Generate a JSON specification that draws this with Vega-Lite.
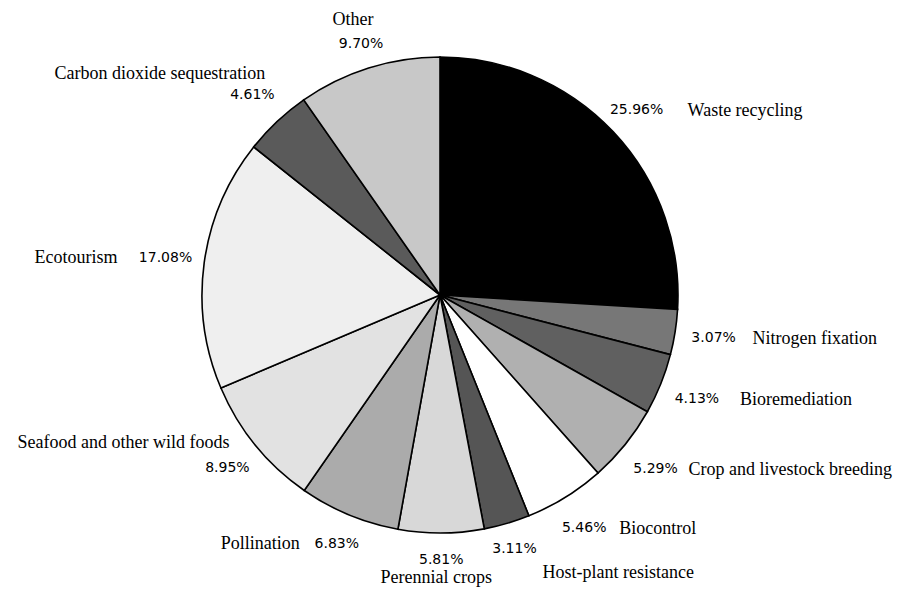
{
  "$schema": "https://vega.github.io/schema/vega-lite/v6.json",
  "width": 880,
  "height": 590,
  "autosize": "none",
  "padding": {"left": 0, "top": 0, "right": 25, "bottom": 1},
  "background": "white",
  "config": {"view": {"stroke": null}},
  "data": {
    "values": [
      {"idx": 1, "service": "Waste recycling", "share": 0.2596},
      {"idx": 2, "service": "Nitrogen fixation", "share": 0.0307},
      {"idx": 3, "service": "Bioremediation", "share": 0.0413},
      {"idx": 4, "service": "Crop and livestock breeding", "share": 0.0529},
      {"idx": 5, "service": "Biocontrol", "share": 0.0546},
      {"idx": 6, "service": "Host-plant resistance", "share": 0.0311},
      {"idx": 7, "service": "Perennial crops", "share": 0.0581},
      {"idx": 8, "service": "Pollination", "share": 0.0683},
      {"idx": 9, "service": "Seafood and other wild foods", "share": 0.0895},
      {"idx": 10, "service": "Ecotourism", "share": 0.1708},
      {"idx": 11, "service": "Carbon dioxide sequestration", "share": 0.0461},
      {"idx": 12, "service": "Other", "share": 0.0970}
    ]
  },
  "encoding": {
    "theta": {"field": "share", "type": "quantitative", "stack": true},
    "order": {"field": "idx", "type": "quantitative"}
  },
  "layer": [
    {
      "mark": {"type": "arc", "radius": 238, "stroke": "black", "strokeWidth": 1.6},
      "encoding": {
        "fill": {
          "field": "service",
          "type": "nominal",
          "legend": null,
          "scale": {
            "domain": ["Waste recycling", "Nitrogen fixation", "Bioremediation", "Crop and livestock breeding", "Biocontrol", "Host-plant resistance", "Perennial crops", "Pollination", "Seafood and other wild foods", "Ecotourism", "Carbon dioxide sequestration", "Other"],
            "range": ["#000000", "#777777", "#606060", "#b0b0b0", "#ffffff", "#555555", "#d8d8d8", "#ababab", "#e2e2e2", "#efefef", "#5a5a5a", "#c8c8c8"]
          }
        }
      }
    },
    {
      "mark": {"type": "text", "radius": 265, "font": "DejaVu Sans", "fontSize": 14, "align": "center", "baseline": "middle", "color": "black"},
      "encoding": {"text": {"condition": {"test": "indexof([6,7], datum.idx) >= 0", "field": "share", "type": "quantitative", "format": ".2%"}, "value": ""}}
    },
    {
      "mark": {"type": "text", "radius": 263, "font": "DejaVu Sans", "fontSize": 14, "align": "center", "baseline": "middle", "color": "black"},
      "encoding": {"text": {"condition": {"test": "datum.idx === 12", "field": "share", "type": "quantitative", "format": ".2%"}, "value": ""}}
    },
    {
      "mark": {"type": "text", "radius": 270, "font": "DejaVu Sans", "fontSize": 14, "align": "center", "baseline": "middle", "color": "black"},
      "encoding": {"text": {"condition": {"test": "indexof([1,8], datum.idx) >= 0", "field": "share", "type": "quantitative", "format": ".2%"}, "value": ""}}
    },
    {
      "mark": {"type": "text", "radius": 274, "font": "DejaVu Sans", "fontSize": 14, "align": "center", "baseline": "middle", "color": "black"},
      "encoding": {"text": {"condition": {"test": "indexof([5,9,11], datum.idx) >= 0", "field": "share", "type": "quantitative", "format": ".2%"}, "value": ""}}
    },
    {
      "mark": {"type": "text", "radius": 277, "font": "DejaVu Sans", "fontSize": 14, "align": "center", "baseline": "middle", "color": "black"},
      "encoding": {"text": {"condition": {"test": "indexof([2,3,4,10], datum.idx) >= 0", "field": "share", "type": "quantitative", "format": ".2%"}, "value": ""}}
    },
    {
      "mark": {"type": "text", "radius": 270, "font": "Liberation Serif", "fontSize": 18, "align": "left", "baseline": "alphabetic", "dx": 51, "dy": 6, "color": "black"},
      "encoding": {"text": {"condition": {"test": "datum.idx === 1", "field": "service", "type": "nominal"}, "value": ""}}
    },
    {
      "mark": {"type": "text", "radius": 277, "font": "Liberation Serif", "fontSize": 18, "align": "left", "baseline": "alphabetic", "dx": 39, "dy": 6, "color": "black"},
      "encoding": {"text": {"condition": {"test": "datum.idx === 2", "field": "service", "type": "nominal"}, "value": ""}}
    },
    {
      "mark": {"type": "text", "radius": 277, "font": "Liberation Serif", "fontSize": 18, "align": "left", "baseline": "alphabetic", "dx": 43, "dy": 6, "color": "black"},
      "encoding": {"text": {"condition": {"test": "datum.idx === 3", "field": "service", "type": "nominal"}, "value": ""}}
    },
    {
      "mark": {"type": "text", "radius": 277, "font": "Liberation Serif", "fontSize": 18, "align": "left", "baseline": "alphabetic", "dx": 33, "dy": 6, "color": "black"},
      "encoding": {"text": {"condition": {"test": "datum.idx === 4", "field": "service", "type": "nominal"}, "value": ""}}
    },
    {
      "mark": {"type": "text", "radius": 274, "font": "Liberation Serif", "fontSize": 18, "align": "left", "baseline": "alphabetic", "dx": 35, "dy": 6, "color": "black"},
      "encoding": {"text": {"condition": {"test": "datum.idx === 5", "field": "service", "type": "nominal"}, "value": ""}}
    },
    {
      "mark": {"type": "text", "radius": 265, "font": "Liberation Serif", "fontSize": 18, "align": "left", "baseline": "alphabetic", "dx": 28, "dy": 29, "color": "black"},
      "encoding": {"text": {"condition": {"test": "datum.idx === 6", "field": "service", "type": "nominal"}, "value": ""}}
    },
    {
      "mark": {"type": "text", "radius": 265, "font": "Liberation Serif", "fontSize": 18, "align": "center", "baseline": "alphabetic", "dx": -5, "dy": 23, "color": "black"},
      "encoding": {"text": {"condition": {"test": "datum.idx === 7", "field": "service", "type": "nominal"}, "value": ""}}
    },
    {
      "mark": {"type": "text", "radius": 270, "font": "Liberation Serif", "fontSize": 18, "align": "right", "baseline": "alphabetic", "dx": -37, "dy": 5, "color": "black"},
      "encoding": {"text": {"condition": {"test": "datum.idx === 8", "field": "service", "type": "nominal"}, "value": ""}}
    },
    {
      "mark": {"type": "text", "radius": 274, "font": "Liberation Serif", "fontSize": 18, "align": "right", "baseline": "alphabetic", "dx": 2, "dy": -20, "color": "black"},
      "encoding": {"text": {"condition": {"test": "datum.idx === 9", "field": "service", "type": "nominal"}, "value": ""}}
    },
    {
      "mark": {"type": "text", "radius": 277, "font": "Liberation Serif", "fontSize": 18, "align": "right", "baseline": "alphabetic", "dx": -48, "dy": 5, "color": "black"},
      "encoding": {"text": {"condition": {"test": "datum.idx === 10", "field": "service", "type": "nominal"}, "value": ""}}
    },
    {
      "mark": {"type": "text", "radius": 274, "font": "Liberation Serif", "fontSize": 18, "align": "right", "baseline": "alphabetic", "dx": 13, "dy": -16, "color": "black"},
      "encoding": {"text": {"condition": {"test": "datum.idx === 11", "field": "service", "type": "nominal"}, "value": ""}}
    },
    {
      "mark": {"type": "text", "radius": 263, "font": "Liberation Serif", "fontSize": 18, "align": "center", "baseline": "alphabetic", "dx": -8, "dy": -19, "color": "black"},
      "encoding": {"text": {"condition": {"test": "datum.idx === 12", "field": "service", "type": "nominal"}, "value": ""}}
    }
  ]
}
